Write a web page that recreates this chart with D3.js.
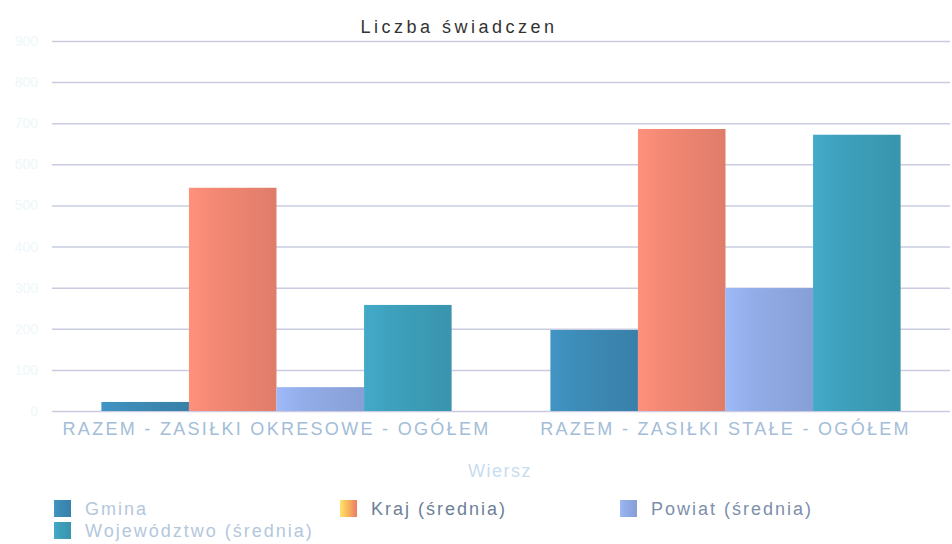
<!DOCTYPE html>
<html><head><meta charset="utf-8">
<script src="https://cdn.jsdelivr.net/npm/d3@7"></script>
<style>body{margin:0;background:#fff}svg{display:block;font-family:"Liberation Sans",Arial,sans-serif}</style>
</head><body><svg id="c" width="952" height="544"></svg>
<script>
const categories = ["RAZEM - ZASIŁKI OKRESOWE - OGÓŁEM", "RAZEM - ZASIŁKI STAŁE - OGÓŁEM"];
const seriesNames = ["Gmina", "Kraj (średnia)", "Powiat (średnia)", "Województwo (średnia)"];
const gmina = [22, 197];
const kraj = [543, 686];
const powiat = [58, 299];
const wojewodztwo = [258, 672];
const yTicks = [0, 100, 200, 300, 400, 500, 600, 700, 800, 900];
const colors = ["#3a86b0", "#e9826f", "#8da6df", "#3b9ab5"];
const title = "Liczba świadczen";
const xTitle = "Wiersz";

const seriesValues = [gmina, kraj, powiat, wojewodztwo];
const svg = d3.select("#c");
const L = 52, R = 950, T = 41, B = 411;
const x0 = d3.scaleBand().domain(categories).range([L, R]).paddingInner(0.22).paddingOuter(0.11);
const x1 = d3.scaleBand().domain(seriesNames).range([0, x0.bandwidth()]);
const y = d3.scaleLinear().domain([0, 900]).range([B, T]);

// gradients
const defs = svg.append("defs");
colors.forEach((c, i) => {
  const g = defs.append("linearGradient").attr("id", "g" + i).attr("x1", "0").attr("x2", "1").attr("y1", "0").attr("y2", "0");
  const cc = d3.color(c);
  g.append("stop").attr("offset", "0").attr("stop-color", cc.brighter(0.3));
  g.append("stop").attr("offset", "0.3").attr("stop-color", cc.brighter(0.12));
  g.append("stop").attr("offset", "1").attr("stop-color", cc.darker(0.12));
});
const kg = defs.append("linearGradient").attr("id", "kl").attr("x1", "0").attr("x2", "1");
kg.append("stop").attr("offset", "0").attr("stop-color", "#fde46c");
kg.append("stop").attr("offset", "0.5").attr("stop-color", "#f6b35a");
kg.append("stop").attr("offset", "1").attr("stop-color", "#ec7a6a");

// gridlines
const yAxis = d3.axisLeft(y).tickValues(yTicks).tickSize(-(R - L)).tickFormat(d3.format("d"));
const ga = svg.append("g").attr("transform", `translate(${L},0)`).call(yAxis);
ga.select(".domain").remove();
ga.selectAll(".tick line").attr("stroke", "#c9cce0").attr("stroke-width", 1.5);
ga.selectAll(".tick text").attr("fill", "#eef7fa").attr("font-size", 14).attr("x", -14);

// bars
const grp = svg.append("g").selectAll("g").data(categories).join("g")
  .attr("transform", d => `translate(${x0(d)},0)`);
grp.selectAll("rect").data((d, ci) => seriesNames.map((s, si) => ({s, si, v: seriesValues[si][ci]})))
  .join("rect")
  .attr("x", d => x1(d.s)).attr("width", x1.bandwidth())
  .attr("y", d => y(d.v)).attr("height", d => B - y(d.v))
  .attr("fill", d => `url(#g${d.si})`);

// x labels
const xAxis = d3.axisBottom(x0).tickSize(0).tickPadding(0);
const xa = svg.append("g").attr("transform", `translate(0,${B})`).call(xAxis);
xa.select(".domain").remove();
xa.selectAll(".tick text").attr("fill", "#a3bdd8").attr("font-size", 18).attr("letter-spacing", 2.3).attr("dy", null).attr("y", 24);

// titles
svg.append("text").attr("x", 459).attr("y", 33).attr("text-anchor", "middle").attr("font-size", 18).attr("letter-spacing", 3.5).attr("fill", "#333").text(title);
svg.append("text").attr("x", 500).attr("y", 477).attr("text-anchor", "middle").attr("font-size", 18).attr("letter-spacing", 1.5).attr("fill", "#c9dcf0").text(xTitle);

// legend
const legendPos = [[54, 515], [340, 515], [620, 515], [54, 537]];
const legendText = ["#b3c7dc", "#6d7f98", "#7d8fab", "#b3c7dc"];
seriesNames.forEach((s, i) => {
  const [lx, ly] = legendPos[i];
  svg.append("rect").attr("x", lx).attr("y", ly - 15).attr("width", 17).attr("height", 17)
    .attr("fill", i === 1 ? "url(#kl)" : `url(#g${i})`);
  svg.append("text").attr("x", lx + 31).attr("y", ly).attr("font-size", 18).attr("letter-spacing", 2).attr("fill", legendText[i]).text(s);
});
</script></body></html>
